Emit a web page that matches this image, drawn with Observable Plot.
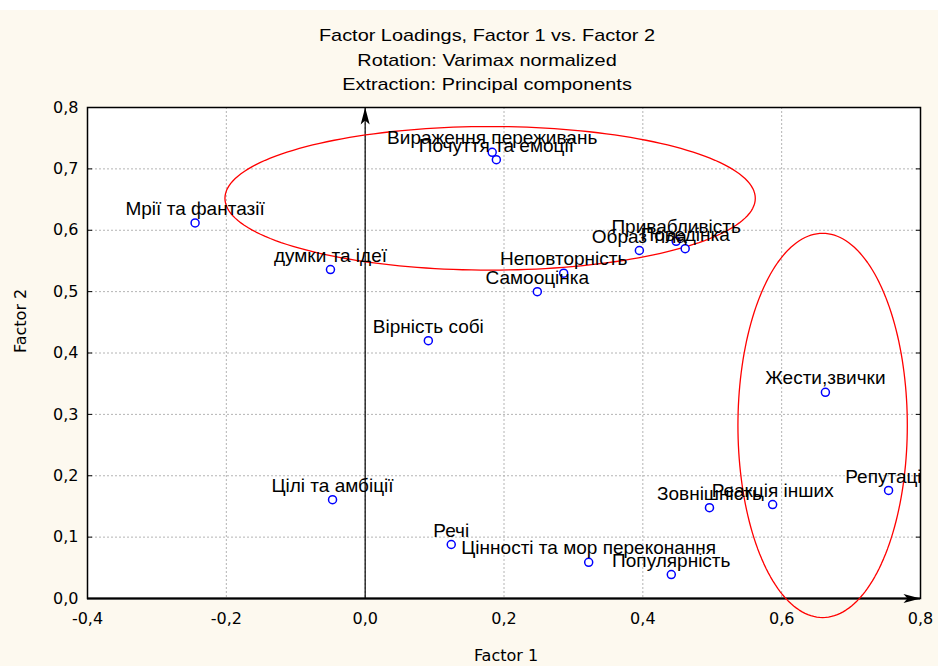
<!DOCTYPE html>
<html>
<head>
<meta charset="utf-8">
<script src="https://cdn.jsdelivr.net/npm/d3@7"></script>
<script src="https://cdn.jsdelivr.net/npm/@observablehq/plot@0.6"></script>
<style>
  html, body { margin: 0; padding: 0; background: #ffffff; }
  #page { margin-top: 10px; width: 938px; height: 656px; background: #fdf9ef; position: relative; overflow: hidden; font-family: "Liberation Sans", Arial, sans-serif; }
  #titles { height: 85px; position: relative; }
  .t { position: absolute; left: 0; width: 974px; text-align: center; font-size: 17px; line-height: 20px; color: #000; transform: scaleX(1.17); transform-origin: 487px 0; }
  #chart { position: absolute; left: 0; top: 85px; }
</style>
</head>
<body>
<div id="page">
  <div id="titles">
    <div class="t" style="top:16px">Factor Loadings, Factor 1 vs. Factor 2</div>
    <div class="t" style="top:41px">Rotation: Varimax normalized</div>
    <div class="t" style="top:65px">Extraction: Principal components</div>
  </div>
  <div id="chart"></div>
</div>
<script>
const labels = ["Мрії та фантазії", "думки та ідеї", "Вірність собі", "Цілі та амбіції", "Речі",
  "Цінності та мор переконання", "Популярність", "Зовнішність", "Реакція інших", "Репутація",
  "Жести,звички", "Неповторність", "Самооцінка", "Образ тіла", "Привабливість", "Поведінка",
  "Вираження переживань", "Почуття та емоції"];
const factor1 = [-0.245, -0.050, 0.091, -0.047, 0.124, 0.322, 0.441, 0.496, 0.587, 0.754,
  0.663, 0.286, 0.248, 0.395, 0.448, 0.461, 0.183, 0.189];
const factor2 = [0.612, 0.536, 0.420, 0.161, 0.088, 0.059, 0.039, 0.148, 0.153, 0.176,
  0.336, 0.530, 0.500, 0.567, 0.582, 0.570, 0.727, 0.715];
const xTicks = [-0.4, -0.2, 0.0, 0.2, 0.4, 0.6, 0.8];
const yTicks = [0.0, 0.1, 0.2, 0.3, 0.4, 0.5, 0.6, 0.7, 0.8];
// highlighted groups: center x, center y, radius x, radius y
const ellipseCx = [0.180, 0.659];
const ellipseCy = [0.652, 0.282];
const ellipseRx = [0.382, 0.122];
const ellipseRy = [0.117, 0.313];

const points = labels.map((name, i) => ({name, f1: factor1[i], f2: factor2[i]}));
const ellipsePts = [];
ellipseCx.forEach((cx, k) => {
  for (let j = 0; j <= 180; j++) {
    const a = (j / 180) * 2 * Math.PI;
    ellipsePts.push({k, x: cx + ellipseRx[k] * Math.cos(a), y: ellipseCy[k] + ellipseRy[k] * Math.sin(a)});
  }
});

const fmt = d => d3.format(".1f")(d).replace(".", ",").replace("−", "-");
const arrowHead = {
  draw(ctx, size) {
    ctx.moveTo(0, 0);
    ctx.lineTo(-4.5, 17);
    ctx.lineTo(0, 13);
    ctx.lineTo(4.5, 17);
    ctx.closePath();
  }
};
const axisFont = "DejaVu Sans, Verdana, sans-serif";

const chart = Plot.plot({
  width: 938,
  height: 571,
  marginTop: 12,
  marginBottom: 68,
  marginLeft: 87,
  marginRight: 18,
  style: {background: "transparent", fontFamily: "Liberation Sans, Arial, sans-serif", fontSize: "15px", color: "#000", overflow: "visible"},
  x: {domain: [-0.4, 0.8]},
  y: {domain: [0, 0.8]},
  marks: [
    Plot.frame({fill: "white", stroke: null}),
    Plot.gridX(xTicks, {stroke: "#b4b4b4", strokeOpacity: 1, strokeDasharray: "2,2"}),
    Plot.gridY(yTicks, {stroke: "#b4b4b4", strokeOpacity: 1, strokeDasharray: "2,2"}),
    Plot.axisX(xTicks, {tickSize: 0, tickPadding: 14, tickFormat: fmt, fontSize: 16, fontFamily: axisFont, label: null}),
    Plot.axisY(yTicks, {tickSize: 0, tickPadding: 9, tickFormat: fmt, fontSize: 16, fontFamily: axisFont, label: null}),
    Plot.axisY(yTicks, {anchor: "left", tickSize: 5, dx: 5, tickFormat: () => "", label: null}),
    Plot.axisY(yTicks, {anchor: "right", tickSize: 5, dx: -5, tickFormat: () => "", label: null}),
    Plot.text(["Factor 1"], {frameAnchor: "bottom", dy: 57, fontSize: 16, fontFamily: axisFont, lineAnchor: "middle", dx: 2}),
    Plot.text(["Factor 2"], {frameAnchor: "left", dx: -67, rotate: -90, fontSize: 16, fontFamily: axisFont}),
    Plot.ruleY([0], {stroke: "#777", strokeWidth: 3}),
    Plot.ruleY([0], {stroke: "black", strokeWidth: 1}),
    Plot.ruleX([0], {stroke: "black", strokeWidth: 1.2}),
    Plot.dot([{x: 0, y: 0.8}], {x: "x", y: "y", symbol: arrowHead, r: 6, fill: "black", stroke: null}),
    Plot.dot([{x: 0.8, y: 0}], {x: "x", y: "y", symbol: arrowHead, r: 6, fill: "black", stroke: null, rotate: 90}),
    Plot.frame({stroke: "black", strokeWidth: 1.5}),
    Plot.line(ellipsePts, {x: "x", y: "y", z: "k", stroke: "#ff0000", strokeWidth: 1.3}),
    Plot.dot(points, {x: "f1", y: "f2", r: 4, stroke: "#0000ff", strokeWidth: 1.5, fill: "white"}),
    Plot.text(points, {x: "f1", y: "f2", text: "name", dy: -14, fontSize: 19, fill: "black", clip: true})
  ]
});
document.getElementById("chart").appendChild(chart);
</script>
</body>
</html>
